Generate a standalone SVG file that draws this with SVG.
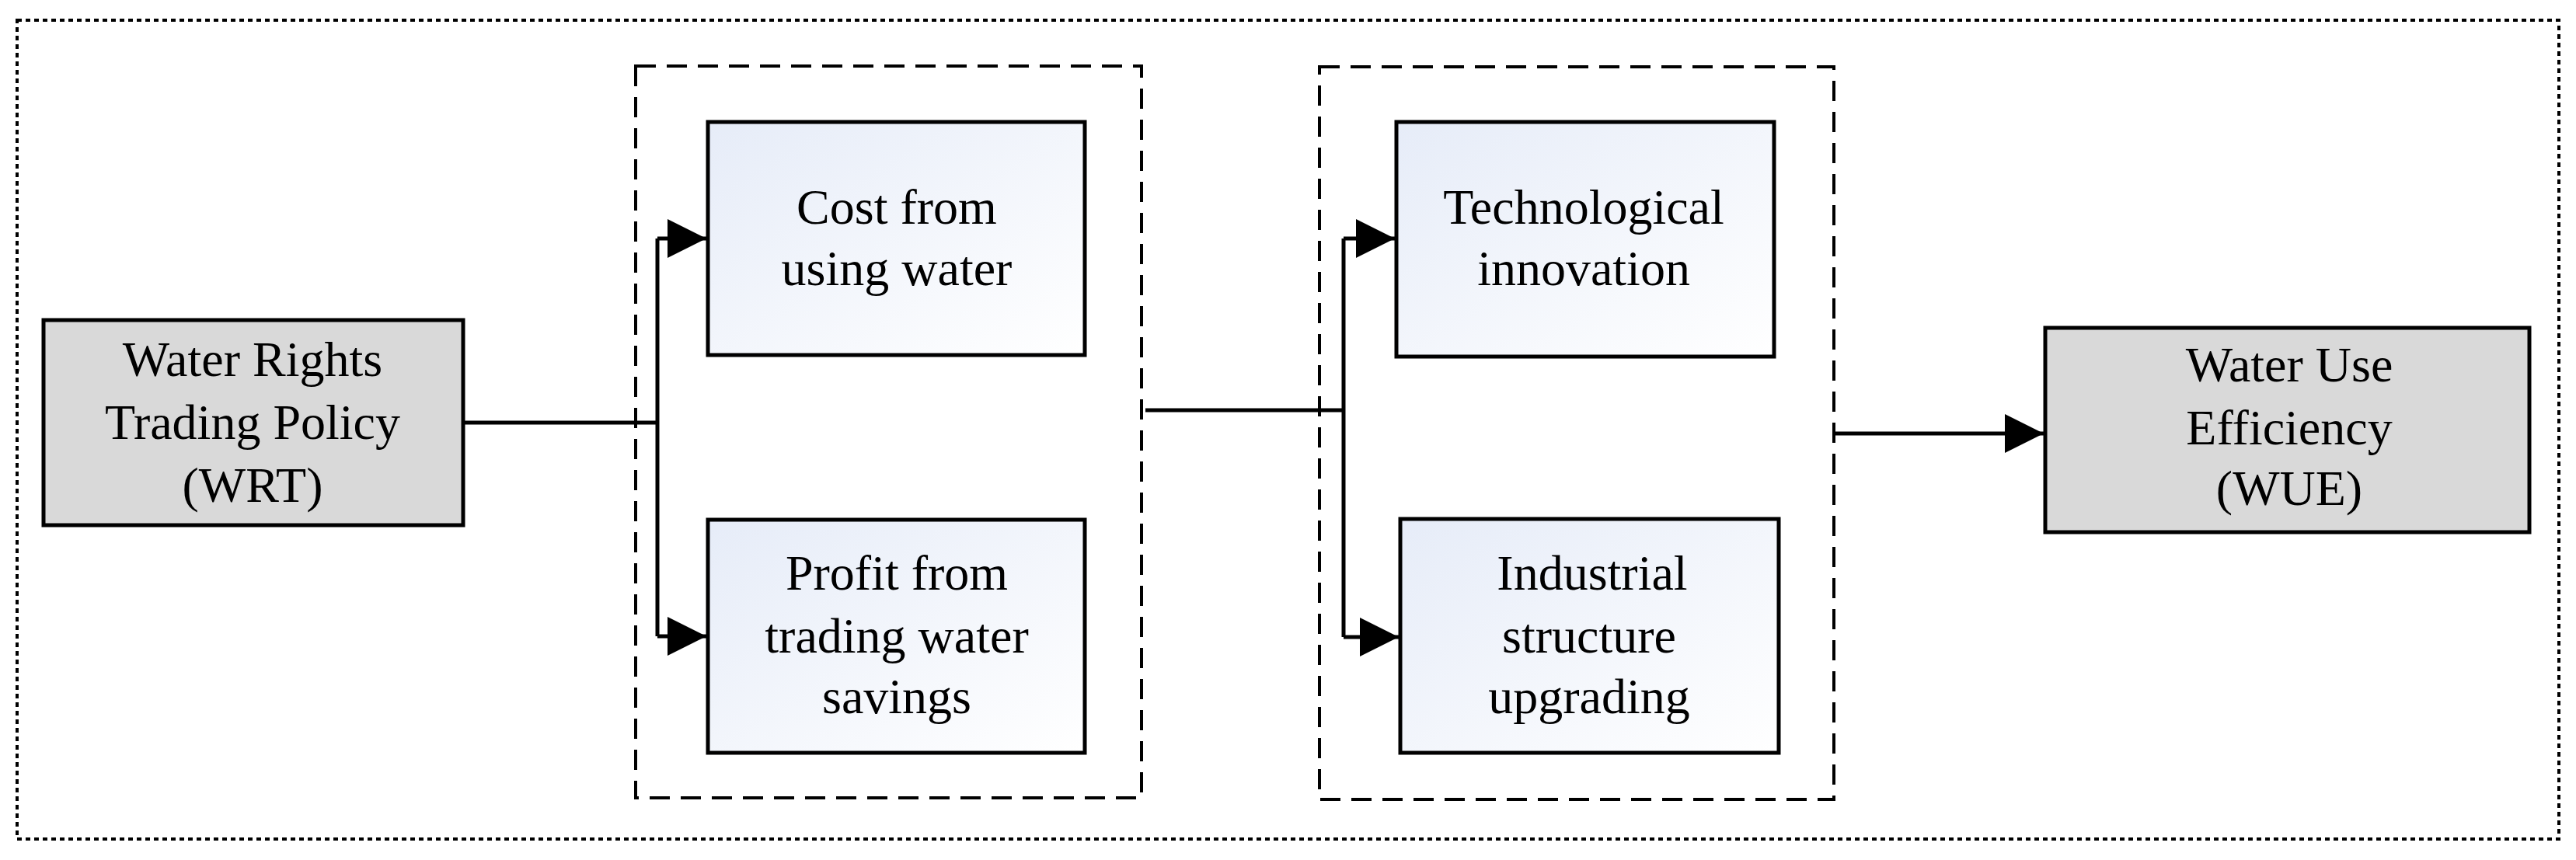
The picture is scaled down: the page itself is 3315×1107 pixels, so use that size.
<svg xmlns="http://www.w3.org/2000/svg" width="3315" height="1107" viewBox="0 0 3315 1107">
<style>
.t{font-family:"Liberation Serif",serif;font-size:64px;fill:#000;text-anchor:middle}
.g{fill:#d9d9d9;stroke:#000;stroke-width:5}
.b{fill:url(#lg);stroke:#000;stroke-width:5}
.c{fill:none;stroke:#000;stroke-width:5}
.grp{fill:none;stroke:#000;stroke-width:4;stroke-dasharray:26 14}
</style>
<defs>
<linearGradient id="lg" x1="0" y1="0" x2="1" y2="1"><stop offset="0" stop-color="#e6ecf8"/><stop offset="1" stop-color="#ffffff"/></linearGradient>
<marker id="ar" viewBox="0 0 10 10" refX="10" refY="5" markerWidth="9" markerHeight="9" markerUnits="userSpaceOnUse" orient="auto" style="overflow:visible"><path d="M0,0 L10,5 L0,10 z" fill="#000"/></marker>
<marker id="a" viewBox="0 0 10 10" refX="10" refY="5" markerWidth="10" markerHeight="14" orient="auto"><path d="M0,0 L10,5 L0,10 z" fill="#000"/></marker>
</defs>
<rect x="22" y="26" width="3271" height="1054" fill="none" stroke="#000" stroke-width="4" stroke-dasharray="6 5"/>
<rect class="grp" x="818" y="85" width="651" height="942"/>
<rect class="grp" x="1698" y="86" width="662" height="943"/>
<g id="connectors">
<path class="c" d="M596,544 H846"/>
<path class="c" d="M846,307 V819"/>
<path class="c" d="M846,307 H909" marker-end="url(#a)"/>
<path class="c" d="M846,819 H909" marker-end="url(#a)"/>
<path class="c" d="M1474,528 H1729"/>
<path class="c" d="M1729,307 V820"/>
<path class="c" d="M1729,307 H1795" marker-end="url(#a)"/>
<path class="c" d="M1729,820 H1800" marker-end="url(#a)"/>
<path class="c" d="M2362,558 H2630" marker-end="url(#a)"/>
</g>
<g id="wrt"><rect class="g" x="56" y="412" width="540" height="264"/>
<text class="t" x="325" y="484">Water Rights</text><text class="t" x="325" y="565">Trading Policy</text><text class="t" x="325" y="646">(WRT)</text></g>
<g id="cost"><rect class="b" x="911" y="157" width="485" height="300"/>
<text class="t" x="1154" y="288">Cost from</text><text class="t" x="1154" y="367">using water</text></g>
<g id="profit"><rect class="b" x="911" y="669" width="485" height="300"/>
<text class="t" x="1154" y="759">Profit from</text><text class="t" x="1154" y="840">trading water</text><text class="t" x="1154" y="918">savings</text></g>
<g id="tech"><rect class="b" x="1797" y="157" width="486" height="302"/>
<text class="t" x="2038" y="288">Technological</text><text class="t" x="2038" y="367">innovation</text></g>
<g id="ind"><rect class="b" x="1802" y="668" width="487" height="301"/>
<text class="t" x="2049" y="759">Industrial</text><text class="t" x="2045" y="840">structure</text><text class="t" x="2045" y="918">upgrading</text></g>
<g id="wue"><rect class="g" x="2632" y="422" width="623" height="263"/>
<text class="t" x="2946" y="491">Water Use</text><text class="t" x="2946" y="572">Efficiency</text><text class="t" x="2946" y="650">(WUE)</text></g>
</svg>
